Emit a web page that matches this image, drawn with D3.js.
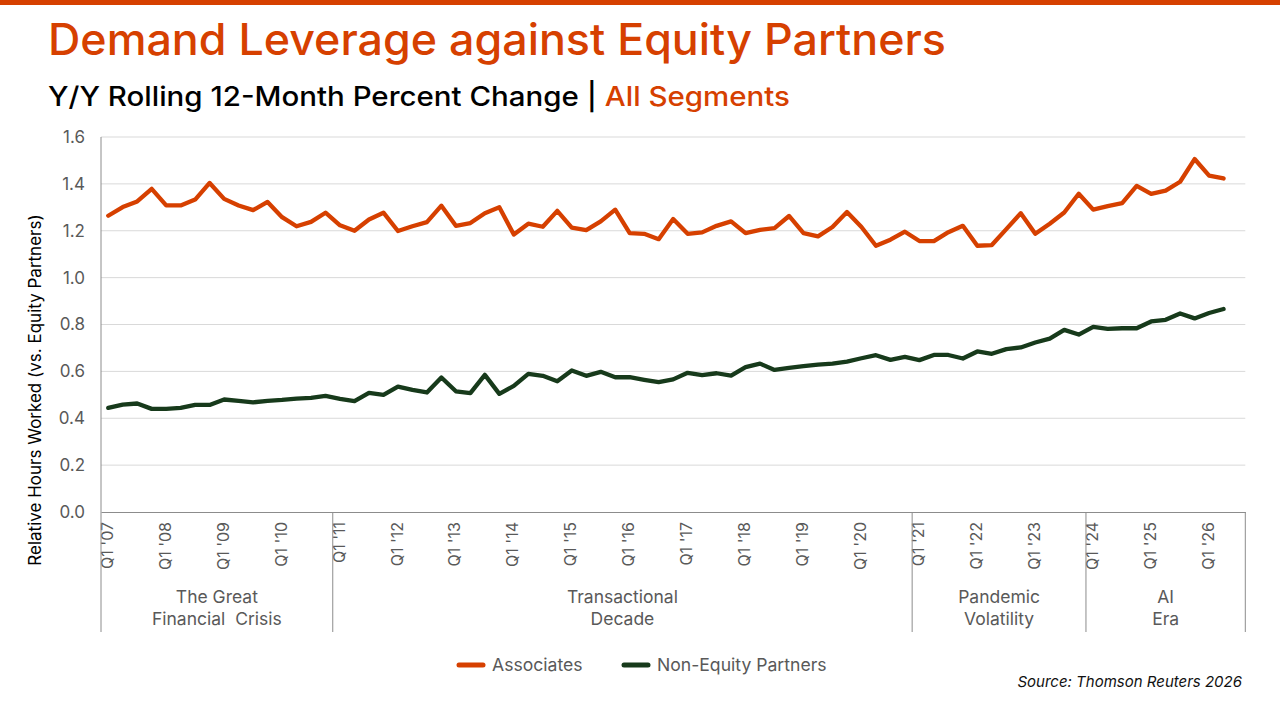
<!DOCTYPE html>
<html>
<head>
<meta charset="utf-8">
<script src="https://cdn.jsdelivr.net/npm/d3@7"></script>
<style>
  body { margin: 0; background: #fff; }
  svg { display: block; font-family: Inter, "Noto Sans", sans-serif; }
</style>
</head>
<body>
<div class="chart"></div>
<script>
// quarters Q1 '07 .. Q3 '26 (last slot is empty)
const years = d3.range(2007, 2027);
const quarters = [];
years.forEach(yr => {
  [1, 2, 3, 4].forEach(q => {
    if (yr === 2026 && q === 4) return;
    quarters.push(`Q${q} '${String(yr).slice(2)}`);
  });
});

const associates = [
  1.264, 1.301, 1.325, 1.379, 1.308, 1.308, 1.333, 1.404, 1.336, 1.308,
  1.288, 1.323, 1.258, 1.219, 1.238, 1.277, 1.223, 1.200, 1.248, 1.277,
  1.199, 1.219, 1.237, 1.307, 1.221, 1.233, 1.275, 1.300, 1.184, 1.230,
  1.217, 1.285, 1.213, 1.203, 1.240, 1.290, 1.190, 1.187, 1.164, 1.250,
  1.187, 1.193, 1.221, 1.240, 1.190, 1.204, 1.211, 1.263, 1.190, 1.176,
  1.216, 1.280, 1.216, 1.136, 1.162, 1.196, 1.156, 1.156, 1.194, 1.221,
  1.136, 1.139, 1.207, 1.275, 1.187, 1.230, 1.278, 1.358, 1.290, 1.305,
  1.318, 1.391, 1.357, 1.371, 1.409, 1.506, 1.435, 1.423
];

const nonEquity = [
  0.444, 0.458, 0.463, 0.440, 0.440, 0.444, 0.457, 0.457, 0.480, 0.474,
  0.468, 0.474, 0.478, 0.484, 0.487, 0.495, 0.483, 0.473, 0.508, 0.500,
  0.535, 0.521, 0.510, 0.574, 0.515, 0.507, 0.585, 0.504, 0.538, 0.589,
  0.581, 0.558, 0.604, 0.581, 0.598, 0.575, 0.575, 0.564, 0.554, 0.566,
  0.594, 0.584, 0.592, 0.582, 0.618, 0.633, 0.606, 0.615, 0.622, 0.629,
  0.633, 0.642, 0.656, 0.669, 0.649, 0.662, 0.648, 0.670, 0.670, 0.655,
  0.685, 0.675, 0.695, 0.702, 0.723, 0.740, 0.777, 0.757, 0.790, 0.781,
  0.784, 0.784, 0.813, 0.820, 0.847, 0.826, 0.849, 0.866
];

const yTicks = [0, 0.2, 0.4, 0.6, 0.8, 1.0, 1.2, 1.4, 1.6];

const eraNames = [["The Great", "Financial  Crisis"], ["Transactional", "Decade"], ["Pandemic", "Volatility"], ["AI", "Era"]];
const eraStarts = ["Q1 '07", "Q1 '11", "Q1 '21", "Q1 '24"];

const seriesNames = ["Associates", "Non-Equity Partners"];
const orange = "#d64000";
const green = "#173a1b";

const W = 1280, H = 720;
const plotL = 101, plotR = 1245.3, plotT = 137, plotB = 512;

const svg = d3.select('.chart').append('svg')
  .attr('width', W)
  .attr('height', H);

// top bar
svg.append('rect').attr('x', 0).attr('y', 0).attr('width', W).attr('height', 5).attr('fill', orange);

svg.append('text')
  .attr('x', 48).attr('y', 55)
  .attr('fill', orange)
  .attr('font-size', 44).attr('font-weight', 500)
  .attr('textLength', 898).attr('lengthAdjust', 'spacingAndGlyphs')
  .text('Demand Leverage against Equity Partners');

let sub = svg.append('text')
  .attr('x', 48).attr('y', 106)
  .attr('font-size', 27).attr('font-weight', 500)
  .attr('textLength', 742).attr('lengthAdjust', 'spacingAndGlyphs');
sub.append('tspan').attr('fill', '#000').text('Y/Y Rolling 12-Month Percent Change | ');
sub.append('tspan').attr('fill', orange).text('All Segments');

let x = d3.scaleBand().domain(quarters).range([plotL, plotR]).padding(0);
let y = d3.scaleLinear().domain([0, 1.6]).range([plotB, plotT]);
let cx = d => x(d) + x.bandwidth() / 2;

// gridlines
svg.append('g').selectAll('line')
  .data(yTicks.filter(t => t > 0))
  .enter().append('line')
    .attr('x1', plotL).attr('x2', plotR)
    .attr('y1', d => y(d)).attr('y2', d => y(d))
    .attr('stroke', '#d9d9d9').attr('stroke-width', 1);

// y axis labels
let yAxis = svg.append('g')
  .attr('transform', `translate(${plotL},0)`)
  .call(d3.axisLeft(y).tickValues(yTicks).tickFormat(d3.format('.1f')).tickSize(0).tickPadding(16));
yAxis.select('.domain').remove();
yAxis.selectAll('text')
  .attr('font-size', 17).attr('fill', '#595959')
  .attr('font-family', 'Inter, sans-serif');

svg.append('text')
  .attr('transform', 'translate(41,390) rotate(-90)')
  .attr('text-anchor', 'middle')
  .attr('font-size', 17).attr('fill', '#000')
  .text('Relative Hours Worked (vs. Equity Partners)');

// x axis
let xAxis = svg.append('g')
  .attr('transform', `translate(0,${plotB})`)
  .call(d3.axisBottom(x).tickValues(quarters.filter(q => q.startsWith('Q1'))).tickSize(0).tickSizeOuter(0));
xAxis.select('.domain').attr('stroke', '#8c8c8c');
xAxis.selectAll('text')
  .attr('font-size', 16).attr('fill', '#595959')
  .attr('font-family', 'Inter, sans-serif')
  .attr('transform', 'rotate(-90)')
  .attr('text-anchor', 'end')
  .attr('x', -10).attr('y', -1).attr('dy', '0.35em');

// left axis line running down through the era band
svg.append('line')
  .attr('x1', plotL).attr('x2', plotL).attr('y1', plotT).attr('y2', 632)
  .attr('stroke', '#8c8c8c');

// era dividers + labels
let eraBounds = eraStarts.map(s => x(s)).concat([plotR]);
svg.append('g').selectAll('line')
  .data(eraBounds.slice(1))
  .enter().append('line')
    .attr('x1', d => d).attr('x2', d => d)
    .attr('y1', plotB).attr('y2', 632)
    .attr('stroke', '#8c8c8c');

let eras = svg.append('g').selectAll('text')
  .data(eraNames)
  .enter().append('text')
    .attr('text-anchor', 'middle')
    .attr('font-size', 17.5).attr('fill', '#595959');
eras.each(function(d, i) {
  let mid = (eraBounds[i] + eraBounds[i + 1]) / 2;
  d3.select(this).selectAll('tspan')
    .data(d)
    .enter().append('tspan')
      .attr('x', mid)
      .attr('y', (t, j) => 603 + j * 22)
      .style('white-space', 'pre')
      .text(t => t);
});

// lines
let line = d3.line()
  .x((d, i) => cx(quarters[i]))
  .y(d => y(d));

[[nonEquity, green], [associates, orange]].forEach(([vals, col]) => {
  svg.append('path')
    .datum(vals)
    .attr('fill', 'none')
    .attr('stroke', col)
    .attr('stroke-width', 4.3)
    .attr('stroke-linejoin', 'round')
    .attr('stroke-linecap', 'round')
    .attr('d', line);
});

// legend
let legendX = [459, 624];
[orange, green].forEach((col, i) => {
  let g = svg.append('g').attr('transform', `translate(${legendX[i]},665)`);
  g.append('line').attr('x1', 0).attr('x2', 24).attr('y1', 0).attr('y2', 0)
    .attr('stroke', col).attr('stroke-width', 5).attr('stroke-linecap', 'round');
  g.append('text').attr('x', 33).attr('y', 0).attr('dy', '0.35em')
    .attr('font-size', 17.6).attr('fill', '#595959')
    .text(seriesNames[i]);
});

svg.append('text')
  .attr('x', 1242).attr('y', 687)
  .attr('text-anchor', 'end')
  .attr('font-size', 15).attr('font-style', 'italic').attr('fill', '#111')
  .text('Source: Thomson Reuters 2026');
</script>
</body>
</html>
